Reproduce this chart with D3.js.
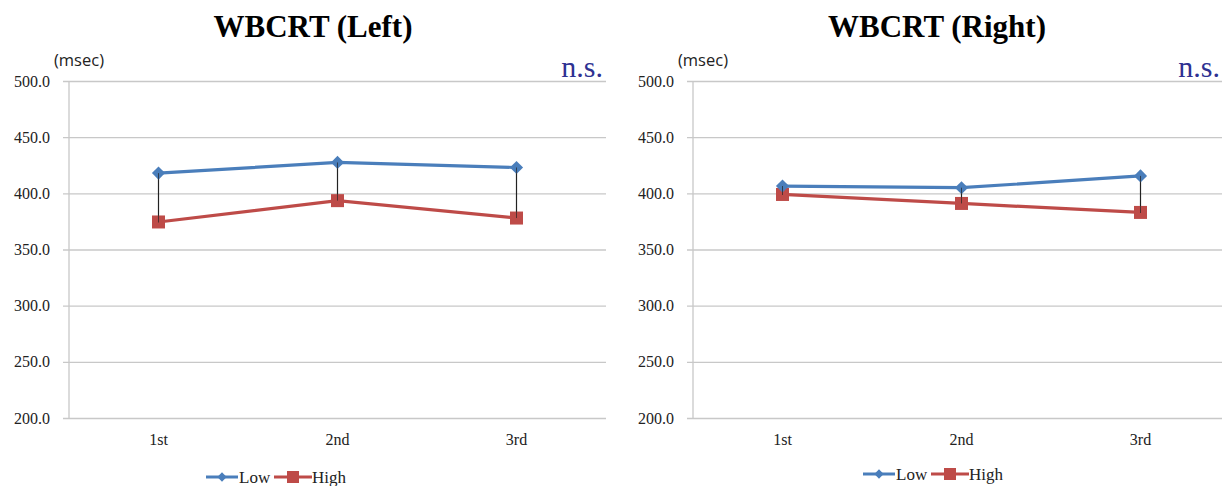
<!DOCTYPE html>
<html>
<head>
<meta charset="utf-8">
<script src="https://cdn.jsdelivr.net/npm/d3@7"></script>
<style>
  body { margin: 0; background: #fff; }
  svg { display: block; }
</style>
</head>
<body>
<div class="container"></div>
<script>
// values
const sessions = ["1st", "2nd", "3rd"];
const yTicks = [200, 250, 300, 350, 400, 450, 500];

const leftLow = [418, 427.5, 423];
const leftHigh = [374.5, 393.5, 378];
const leftLowErr = [44, 34, 45];

const rightLow = [406.5, 405, 415.5];
const rightHigh = [399, 391, 383];
const rightLowErr = [8, 14, 33];

const w = 1222, h = 486;
const blue = "#4a7ebb", red = "#be4b48";
const serif = "'Liberation Serif', 'Times New Roman', serif";

const svg = d3.select(".container")
  .append("svg")
  .attr("width", w)
  .attr("height", h);

function drawPanel(opt) {
  const x0 = opt.x0, top = 81, bottom = 418, pw = 537;
  const g = svg.append("g");

  const x = d3.scaleBand().domain(sessions).range([x0, x0 + pw]);
  const y = d3.scaleLinear().domain([200, 500]).range([bottom, top]);

  // title
  g.append("text")
    .attr("x", opt.titleX).attr("y", 37)
    .attr("text-anchor", "middle")
    .style("font-family", serif)
    .style("font-weight", "bold")
    .style("font-size", "31px")
    .text(opt.title);

  // unit label
  g.append("text")
    .attr("x", x0 + 10).attr("y", 66)
    .style("font-family", "'Open Sans', 'Liberation Sans', sans-serif")
    .style("font-size", "16.5px")
    .attr("text-anchor", "middle")
    .attr("fill", "#222")
    .text("(msec)");

  g.append("text")
    .attr("x", opt.nsX).attr("y", 77)
    .attr("text-anchor", "end")
    .style("font-family", serif)
    .style("font-size", "30px")
    .attr("fill", "#2e3192")
    .text("n.s.");

  // y axis with gridlines
  const ya = g.append("g")
    .attr("transform", `translate(${x0},0)`)
    .call(d3.axisLeft(y)
      .tickValues(yTicks)
      .tickFormat(d3.format(".1f"))
      .tickSize(6)
      .tickPadding(13));
  ya.select(".domain").remove();
  ya.selectAll(".tick line")
    .attr("x1", -6).attr("x2", pw)
    .attr("stroke", "#c8c8c8").attr("stroke-width", 1.3);
  ya.selectAll(".tick text")
    .style("font-family", serif)
    .style("font-size", "16px")
    .attr("fill", "#222");

  // vertical axis line
  g.append("line")
    .attr("x1", x0).attr("x2", x0)
    .attr("y1", top).attr("y2", bottom)
    .attr("stroke", "#c8c8c8").attr("stroke-width", 1.3);

  // x labels
  const xa = g.append("g")
    .attr("transform", `translate(0,${bottom})`)
    .call(d3.axisBottom(x).tickSize(0).tickPadding(16));
  xa.select(".domain").remove();
  xa.selectAll(".tick text")
    .style("font-family", serif)
    .style("font-size", "16px")
    .attr("fill", "#222");

  const cx = d => x(d) + x.bandwidth() / 2;

  // error bars (Low, minus side)
  g.selectAll(".err")
    .data(sessions)
    .enter()
    .append("line")
    .attr("x1", cx).attr("x2", cx)
    .attr("y1", (d, i) => y(opt.low[i]))
    .attr("y2", (d, i) => y(opt.low[i] - opt.err[i]))
    .attr("stroke", "#222").attr("stroke-width", 1.2);

  const line = d3.line().x((d, i) => cx(sessions[i])).y(d => y(d));

  g.append("path").datum(opt.high)
    .attr("d", line).attr("fill", "none")
    .attr("stroke", red).attr("stroke-width", 3.2);
  g.append("path").datum(opt.low)
    .attr("d", line).attr("fill", "none")
    .attr("stroke", blue).attr("stroke-width", 3.2);

  g.selectAll(".hi")
    .data(opt.high)
    .enter()
    .append("rect")
    .attr("x", (d, i) => cx(sessions[i]) - 6.5)
    .attr("y", d => y(d) - 6.5)
    .attr("width", 13).attr("height", 13)
    .attr("fill", red);

  const diamond = d3.symbol().type(d3.symbolDiamond2).size(110);
  g.selectAll(".lo")
    .data(opt.low)
    .enter()
    .append("path")
    .attr("d", diamond)
    .attr("transform", (d, i) => `translate(${cx(sessions[i])},${y(d)})`)
    .attr("fill", blue);

  // error bars show through the markers in the picture
  g.selectAll(".err2")
    .data(sessions)
    .enter()
    .append("line")
    .attr("x1", cx).attr("x2", cx)
    .attr("y1", (d, i) => y(opt.low[i]))
    .attr("y2", (d, i) => y(opt.low[i] - opt.err[i]))
    .attr("stroke", "#222").attr("stroke-width", 1)
    .attr("stroke-opacity", 0.7);

  // legend
  const lg = g.append("g").attr("transform", `translate(${opt.legX},${opt.legY})`);
  lg.append("line").attr("x1", 0).attr("x2", 32).attr("stroke", blue).attr("stroke-width", 3);
  lg.append("path").attr("d", d3.symbol().type(d3.symbolDiamond2).size(55)).attr("transform", "translate(16,0)").attr("fill", blue);
  lg.append("text").attr("x", 33).attr("y", 6)
    .style("font-family", serif).style("font-size", "17px").attr("fill", "#222")
    .text("Low");
  lg.append("line").attr("x1", 68).attr("x2", 106).attr("stroke", red).attr("stroke-width", 3);
  lg.append("rect").attr("x", 81).attr("y", -6).attr("width", 12).attr("height", 12).attr("fill", red);
  lg.append("text").attr("x", 106).attr("y", 6)
    .style("font-family", serif).style("font-size", "17px").attr("fill", "#222")
    .text("High");
}

drawPanel({ x0: 69, title: "WBCRT (Left)", titleX: 313, nsX: 603,
  low: leftLow, high: leftHigh, err: leftLowErr, legX: 206, legY: 477 });
drawPanel({ x0: 693, title: "WBCRT (Right)", titleX: 937, nsX: 1220,
  low: rightLow, high: rightHigh, err: rightLowErr, legX: 863, legY: 474 });
</script>
</body>
</html>
